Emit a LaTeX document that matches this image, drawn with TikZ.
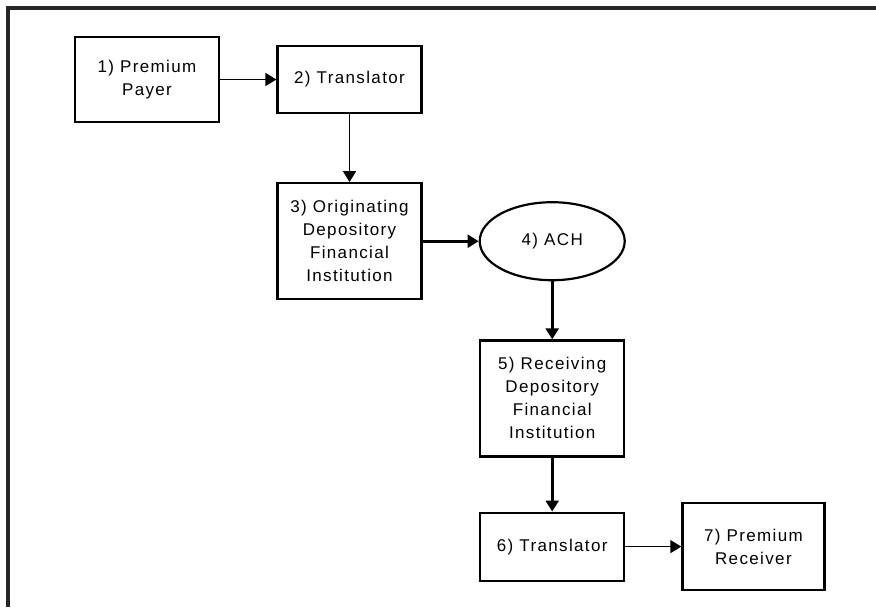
\documentclass[tikz,border=0pt]{standalone}
\usepackage{fontspec}
\newfontfamily\boxfont{Liberation Sans}[LetterSpace=8]
\usetikzlibrary{shapes.geometric, positioning, arrows.meta}

\begin{document}
\begin{tikzpicture}[x=0.5pt, y=-0.5pt,
  box/.style={draw, line width=1.1pt, minimum width=72pt, align=center, inner sep=2pt,
    font=\boxfont\fontsize{8.5}{11.5}\selectfont},
  oval/.style={box, ellipse, minimum width=72.5pt, minimum height=39pt},
  thin/.style={-{Triangle[length=5.5pt,width=6.5pt]}, line width=0.75pt},
  thick/.style={-{Triangle[length=5.5pt,width=6.5pt]}, line width=1.5pt},
  >=Stealth]
  \useasboundingbox (0,0) rectangle (876,607);
  % frame (only top and left edges are visible)
  \draw[line width=1.6pt, black!85] (876,8) -- (8,8) -- (8,607);
  \node[box, line width=1.4pt, minimum height=42.5pt] (payer) at (147,79.5) {1) Premium\\Payer};
  \node[box, minimum height=33.5pt, right=28pt of payer] (trans1) {2) Translator};
  \node[box, minimum height=58pt, below=34pt of trans1] (odfi) {3) Originating\\Depository\\Financial\\Institution};
  \node[oval, right=28pt of odfi] (ach) {4) ACH};
  \node[box, minimum height=58pt, below=29pt of ach] (rdfi) {5) Receiving\\Depository\\Financial\\Institution};
  \node[box, minimum height=34pt, below=27pt of rdfi] (trans2) {6) Translator};
  \node[box, minimum width=71pt, minimum height=43.5pt, right=28pt of trans2] (recv) {7) Premium\\Receiver};
  \draw[thin] (payer) -- (trans1);
  \draw[thin] (trans1) -- (odfi);
  \draw[thick] (odfi) -- (ach);
  \draw[thick] (ach) -- (rdfi);
  \draw[thick] (rdfi) -- (trans2);
  \draw[thin] (trans2) -- (recv);
\end{tikzpicture}
\end{document}
